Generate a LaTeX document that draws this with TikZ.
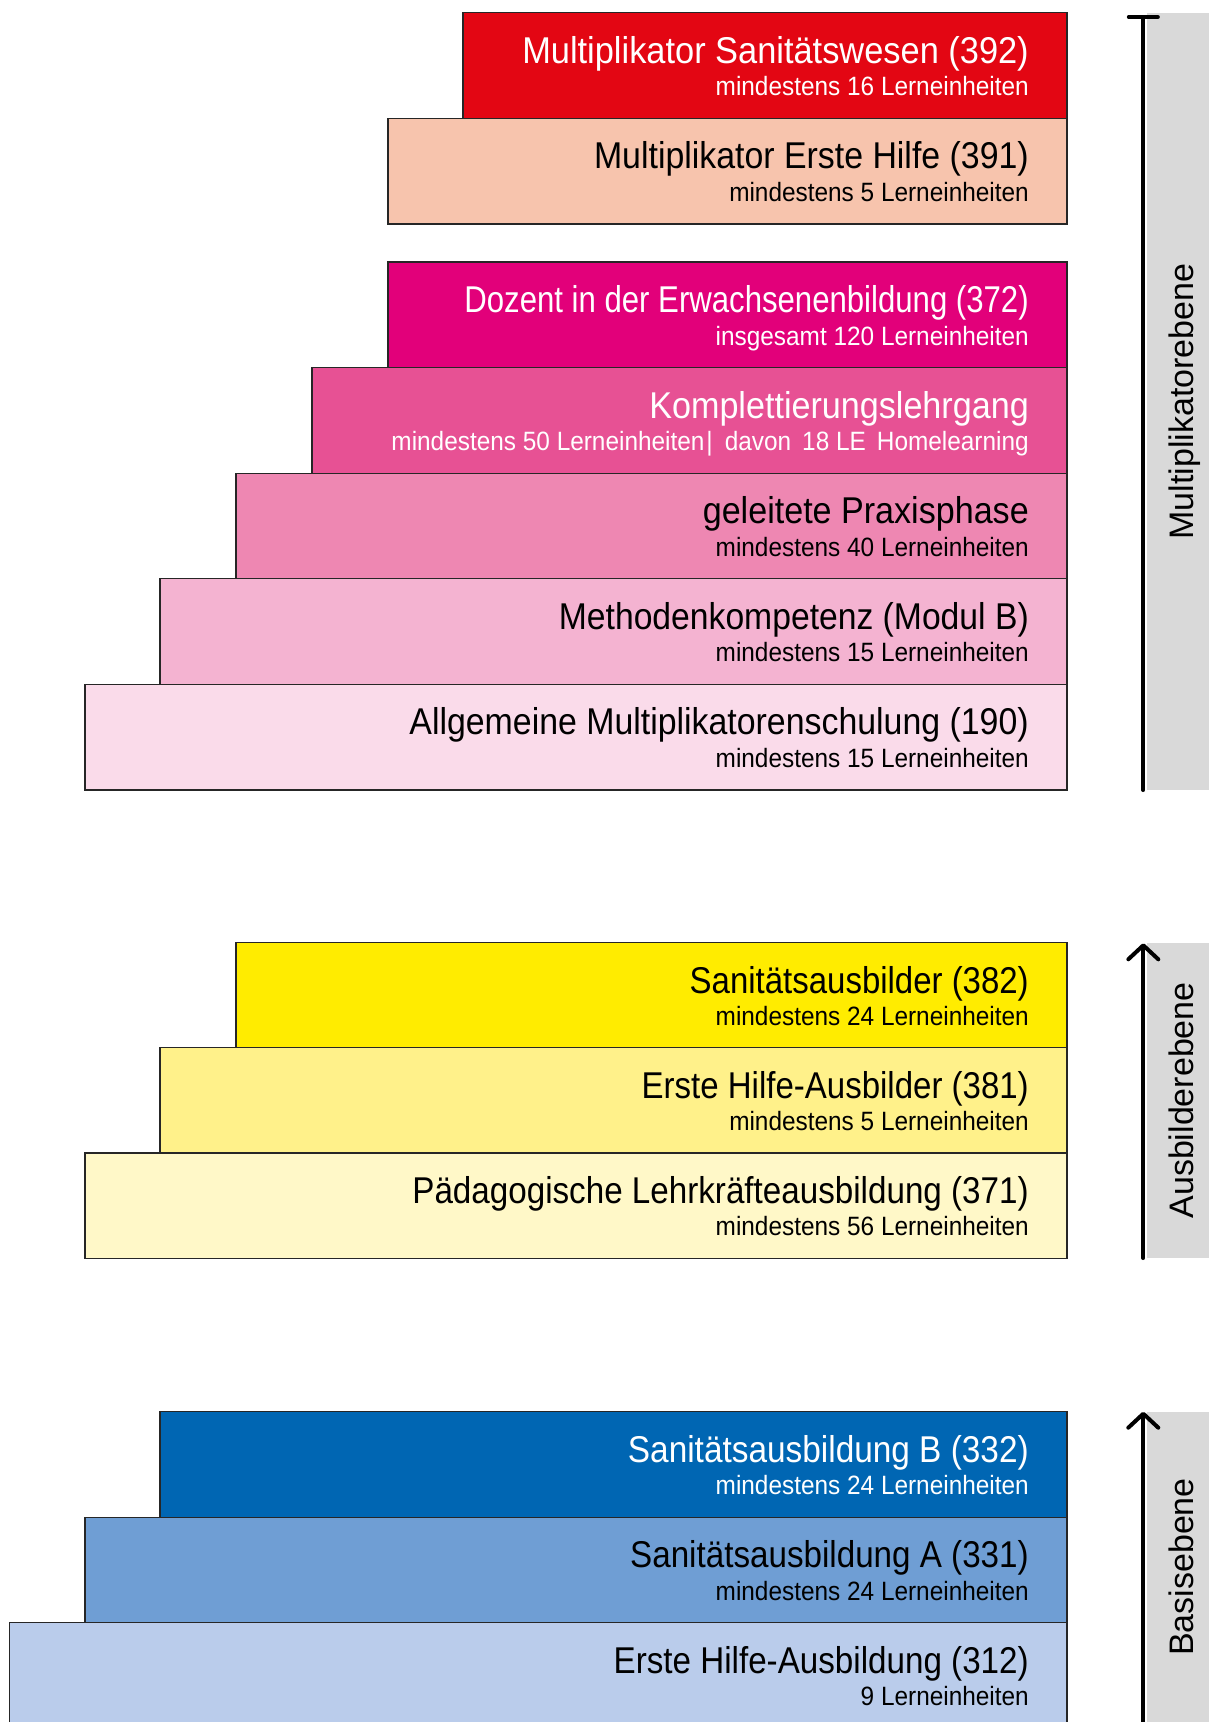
\documentclass[tikz,border=0pt]{standalone}
\usepackage{fontspec}
\usetikzlibrary{arrows.meta}
\newfontfamily\boxfont{Liberation Sans}[FakeStretch=0.92]
\newfontfamily\sidefont{Liberation Sans}
\definecolor{cRed}{HTML}{E30613}
\definecolor{cPeach}{HTML}{F7C4AD}
\definecolor{cMagenta}{HTML}{E2007A}
\definecolor{cKompl}{HTML}{E75194}
\definecolor{cPraxis}{HTML}{EE87B2}
\definecolor{cMethod}{HTML}{F4B3D1}
\definecolor{cAllg}{HTML}{FADBEA}
\definecolor{cYellow}{HTML}{FFEC00}
\definecolor{cLYellow}{HTML}{FFF18A}
\definecolor{cPYellow}{HTML}{FFF8C8}
\definecolor{cBlue}{HTML}{0066B3}
\definecolor{cMBlue}{HTML}{6F9ED4}
\definecolor{cLBlue}{HTML}{BACCEB}
\definecolor{cGray}{HTML}{D9D9D9}
\tikzset{
  stufebox/.style={rectangle, draw=black!85, line width=1.3pt, inner sep=0pt, outer sep=0pt, anchor=north west},
  titel/.style={anchor=base east, inner sep=0pt},
  untertitel/.style={font=\boxfont\fontsize{26.5}{28}\selectfont, anchor=base east, inner sep=0pt},
  ebene/.style={rectangle, fill=cGray, inner sep=0pt, outer sep=0pt, anchor=north west},
  ebenetext/.style={font=\sidefont\fontsize{34}{36}\selectfont, rotate=90, anchor=base, inner sep=0pt},
  pfeil/.style={line width=4pt, line cap=round, line join=round, draw=black},
}
\newcommand\stufe[8]{%
  \node[stufebox, fill=#4, minimum width={1067pt-#3pt}, minimum height=105.6pt] (#1) at (#3,#2) {};
  \node[titel, text=#5] (#1t) at ([xshift=-38pt,yshift=-50.5pt]#1.north east)
    {\fontspec{Liberation Sans}[FakeStretch=#8]\fontsize{37.3}{40}\selectfont #6};
  \node[untertitel, text=#5] (#1s) at ([xshift=-38pt,yshift=-83pt]#1.north east) {#7};
}
\begin{document}
\begin{tikzpicture}[x=1pt, y=-1pt]
\useasboundingbox (0,0) rectangle (1208,1722);
% Multiplikatorebene
\stufe{b1}{12.7}{463}{cRed}{white}{Multiplikator Sanitätswesen (392)}{mindestens 16 Lerneinheiten}{0.922}
\stufe{b2}{118.3}{388}{cPeach}{black}{Multiplikator Erste Hilfe (391)}{mindestens 5 Lerneinheiten}{0.908}
\stufe{b3}{262}{388}{cMagenta}{white}{Dozent in der Erwachsenenbildung (372)}{insgesamt 120 Lerneinheiten}{0.835}
\stufe{b4}{367.6}{312}{cKompl}{white}{Komplettierungslehrgang}{mindestens 50 Lerneinheiten\hspace{2pt}|\hspace{12pt}davon\hspace{11pt}18 LE\hspace{11pt}Homelearning}{0.915}
\stufe{b5}{473.2}{236}{cPraxis}{black}{geleitete Praxisphase}{mindestens 40 Lerneinheiten}{0.914}
\stufe{b6}{578.8}{160}{cMethod}{black}{Methodenkompetenz (Modul B)}{mindestens 15 Lerneinheiten}{0.903}
\stufe{b7}{684.4}{85}{cAllg}{black}{Allgemeine Multiplikatorenschulung (190)}{mindestens 15 Lerneinheiten}{0.908}
% Ausbilderebene
\stufe{b8}{942.7}{236}{cYellow}{black}{Sanitätsausbilder (382)}{mindestens 24 Lerneinheiten}{0.884}
\stufe{b9}{1047.8}{160}{cLYellow}{black}{Erste Hilfe-Ausbilder (381)}{mindestens 5 Lerneinheiten}{0.885}
\stufe{b10}{1152.9}{85}{cPYellow}{black}{Pädagogische Lehrkräfteausbildung (371)}{mindestens 56 Lerneinheiten}{0.89}
% Basisebene
\stufe{b11}{1411.7}{160}{cBlue}{white}{Sanitätsausbildung B (332)}{mindestens 24 Lerneinheiten}{0.895}
\stufe{b12}{1517.2}{85}{cMBlue}{black}{Sanitätsausbildung A (331)}{mindestens 24 Lerneinheiten}{0.89}
\stufe{b13}{1622.7}{9.5}{cLBlue}{black}{Erste Hilfe-Ausbildung (312)}{9 Lerneinheiten}{0.89}
% side bars
\node[ebene, minimum width=62pt, minimum height=777.3pt] (em) at (1146.5,12.7) {};
\node[ebene, minimum width=62pt, minimum height=315.3pt] (ea) at (1146.5,942.7) {};
\node[ebene, minimum width=62pt, minimum height=310.3pt] (eb) at (1146.5,1411.7) {};
\node[ebenetext] (emt) at (1193,401.4) {Multiplikatorebene};
\node[ebenetext] (eat) at (1193,1100.4) {Ausbilderebene};
\node[ebenetext] (ebt) at (1193,1567) {Basisebene};
% arrows
\coordinate (m0) at (1143.3,790);
\coordinate (m1) at (1143.3,15);
\coordinate (a0) at (1143.3,1258);
\coordinate (a1) at (1143.3,943.3);
\coordinate (c0) at (1143.3,1722);
\coordinate (c1) at (1143.3,1411.7);
\draw[pfeil, -{Bar[width=29pt, line cap=round]}] (m0) -- (m1);
\draw[pfeil, -{Straight Barb[length=14pt, width=30pt, line cap=round, line join=round]}] (a0) -- (a1);
\draw[pfeil, -{Straight Barb[length=14pt, width=30pt, line cap=round, line join=round]}] (c0) -- (c1);
\end{tikzpicture}
\end{document}
